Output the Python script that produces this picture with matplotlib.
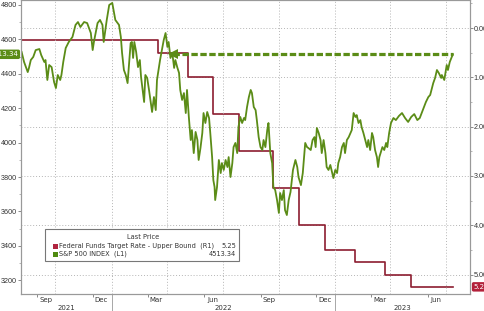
import pandas as pd
import matplotlib
matplotlib.use("Agg")
import matplotlib.pyplot as plt
import matplotlib.dates as mdates
import matplotlib.transforms as mtransforms
from matplotlib.ticker import MultipleLocator, FormatStrFormatter
from matplotlib.patches import Rectangle

plt.rcParams['font.family'] = ['DejaVu Sans']

# S&P 500 index (L1)
sp_dates = [
    "2021-08-07", "2021-08-11", "2021-08-14", "2021-08-17", "2021-08-19", "2021-08-22", "2021-08-26", "2021-08-30",
    "2021-09-05", "2021-09-08", "2021-09-13", "2021-09-15", "2021-09-18", "2021-09-21", "2021-09-25", "2021-09-29",
    "2021-10-02", "2021-10-05", "2021-10-09", "2021-10-11", "2021-10-14", "2021-10-18", "2021-10-23", "2021-10-29",
    "2021-11-03", "2021-11-07", "2021-11-11", "2021-11-17", "2021-11-22", "2021-11-28", "2021-12-01", "2021-12-03",
    "2021-12-09", "2021-12-13", "2021-12-17", "2021-12-19", "2021-12-24", "2021-12-28", "2022-01-02", "2022-01-07",
    "2022-01-13", "2022-01-16", "2022-01-18", "2022-01-21", "2022-01-24", "2022-01-27", "2022-01-29", "2022-02-01",
    "2022-02-03", "2022-02-05", "2022-02-07", "2022-02-10", "2022-02-13", "2022-02-16", "2022-02-18", "2022-02-23",
    "2022-02-25", "2022-02-28", "2022-03-03", "2022-03-06", "2022-03-08", "2022-03-11", "2022-03-14", "2022-03-16",
    "2022-03-21", "2022-03-25", "2022-03-27", "2022-03-30", "2022-04-02", "2022-04-04", "2022-04-07", "2022-04-10",
    "2022-04-13", "2022-04-15", "2022-04-18", "2022-04-21", "2022-04-23", "2022-04-26", "2022-04-29", "2022-05-02",
    "2022-05-04", "2022-05-07", "2022-05-10", "2022-05-12", "2022-05-15", "2022-05-18", "2022-05-21", "2022-05-23",
    "2022-05-26", "2022-05-29", "2022-05-31", "2022-06-03", "2022-06-06", "2022-06-09", "2022-06-11", "2022-06-14",
    "2022-06-16", "2022-06-18", "2022-06-19", "2022-06-22", "2022-06-25", "2022-06-28", "2022-06-30", "2022-07-03",
    "2022-07-06", "2022-07-09", "2022-07-11", "2022-07-14", "2022-07-17", "2022-07-19", "2022-07-22", "2022-07-25",
    "2022-07-27", "2022-07-30", "2022-08-02", "2022-08-05", "2022-08-07", "2022-08-10", "2022-08-13", "2022-08-16",
    "2022-08-18", "2022-08-21", "2022-08-24", "2022-08-26", "2022-08-29", "2022-09-01", "2022-09-04", "2022-09-06",
    "2022-09-09", "2022-09-12", "2022-09-14", "2022-09-17", "2022-09-20", "2022-09-22", "2022-09-25", "2022-09-28",
    "2022-10-01", "2022-10-03", "2022-10-06", "2022-10-09", "2022-10-11", "2022-10-14", "2022-10-17", "2022-10-20",
    "2022-10-24", "2022-10-28", "2022-10-31", "2022-11-02", "2022-11-06", "2022-11-09", "2022-11-13", "2022-11-16",
    "2022-11-18", "2022-11-22", "2022-11-25", "2022-11-28", "2022-11-30", "2022-12-02", "2022-12-05", "2022-12-08",
    "2022-12-10", "2022-12-13", "2022-12-16", "2022-12-18", "2022-12-21", "2022-12-24", "2022-12-27", "2022-12-29",
    "2023-01-01", "2023-01-04", "2023-01-06", "2023-01-09", "2023-01-12", "2023-01-15", "2023-01-17", "2023-01-20",
    "2023-01-23", "2023-01-26", "2023-01-28", "2023-01-31", "2023-02-03", "2023-02-05", "2023-02-08", "2023-02-11",
    "2023-02-13", "2023-02-16", "2023-02-19", "2023-02-22", "2023-02-24", "2023-02-27", "2023-03-02", "2023-03-04",
    "2023-03-07", "2023-03-10", "2023-03-12", "2023-03-14", "2023-03-16", "2023-03-19", "2023-03-22", "2023-03-25",
    "2023-03-27", "2023-03-30", "2023-04-02", "2023-04-06", "2023-04-10", "2023-04-15", "2023-04-20", "2023-04-25",
    "2023-04-30", "2023-05-05", "2023-05-10", "2023-05-15", "2023-05-19", "2023-05-24", "2023-05-29", "2023-06-02",
    "2023-06-05", "2023-06-10", "2023-06-13", "2023-06-16", "2023-06-19", "2023-06-23", "2023-06-24", "2023-06-28",
    "2023-07-02", "2023-07-04", "2023-07-07", "2023-07-12",
]
sp_values = [
    4527, 4469, 4439, 4410, 4434, 4480, 4498, 4538,
    4544, 4509, 4469, 4480, 4364, 4451, 4439, 4352,
    4317, 4393, 4364, 4393, 4469, 4550, 4585, 4614,
    4684, 4701, 4672, 4701, 4695, 4637, 4538, 4585,
    4695, 4713, 4684, 4585, 4713, 4800, 4812, 4713,
    4684, 4614, 4521, 4422, 4393, 4346, 4439, 4579,
    4585, 4492, 4585, 4527, 4439, 4480, 4381, 4236,
    4393, 4376, 4306, 4230, 4178, 4265, 4189, 4364,
    4480, 4556, 4596, 4637, 4556, 4585, 4492, 4521,
    4434, 4480, 4439, 4405, 4306, 4248, 4288, 4172,
    4306, 4149, 4015, 4073, 3939, 4062, 4015, 3899,
    3969, 4056, 4172, 4114, 4178, 4143, 4056, 3916,
    3782, 3742, 3666, 3742, 3899, 3823, 3881, 3841,
    3899, 3858, 3916, 3800, 3881, 3974, 3998, 3939,
    4091, 4149, 4114, 4143, 4131, 4207, 4265, 4306,
    4288, 4207, 4189, 4131, 4032, 3974, 3957, 4015,
    3974, 4073, 4114, 3939, 3881, 3742, 3724, 3666,
    3591, 3707, 3666, 3724, 3608, 3579, 3666, 3713,
    3841, 3899, 3858, 3800, 3753, 3823, 3998, 3974,
    3969, 3957, 4015, 4032, 3974, 4085, 4056, 4015,
    3939, 4015, 3939, 3858, 3841, 3870, 3823, 3794,
    3841, 3823, 3881, 3916, 3974, 3998, 3939, 4015,
    4032, 4056, 4073, 4172, 4149, 4160, 4114, 4131,
    4091, 4056, 4015, 3974, 4015, 3957, 4056, 4032,
    3957, 3916, 3858, 3916, 3939, 3974, 3957, 3998,
    3974, 4056, 4114, 4143, 4131, 4155, 4172, 4143,
    4120, 4149, 4166, 4131, 4143, 4189, 4236, 4265,
    4277, 4346, 4376, 4422, 4405, 4376, 4393, 4364,
    4451, 4422, 4469, 4513.34,
]
sp_last = 4513.34
level_since = "2022-04-11"   # where the dashed "same level" line points back to

# Federal Funds Target Rate - Upper Bound (R1)
rate_dates = ["2021-08-06", "2022-03-17", "2022-05-05", "2022-06-16", "2022-07-28", "2022-09-22",
              "2022-11-03", "2022-12-15", "2023-02-02", "2023-03-23", "2023-05-04", "2023-07-12"]
rate_values = [0.25, 0.50, 1.00, 1.75, 2.50, 3.25, 4.00, 4.50, 4.75, 5.00, 5.25, 5.25]
rate_last = 5.25

x_start, x_end = "2021-08-06", "2023-08-09"
years = [2021, 2022, 2023]

green = '#5b8c17'
red = '#8c1d30'
grid_c = '#b5b5b5'
txt_c = '#333333'

sp_x = pd.to_datetime(sp_dates)
rate_x = pd.to_datetime(rate_dates)

fig = plt.figure(figsize=(4.85, 3.11), dpi=100)
ax = fig.add_axes([21 / 485, 17 / 311, 449 / 485, 294 / 311])
ax2 = ax.twinx()
ax.set_zorder(ax2.get_zorder() + 1)
ax.patch.set_visible(False)

# rate line (right axis)
ax2.plot(rate_x, rate_values, drawstyle='steps-post', color=red, lw=1.2)

# S&P line (left axis)
ax.plot(sp_x, sp_values, color=green, lw=1.3)
ax.plot([pd.Timestamp(level_since), sp_x[-1]], [sp_last, sp_last], color=green, lw=2.3, dashes=(2.0, 0.8))
ax.plot([pd.Timestamp(level_since)], [sp_last], marker='<', color=green, ms=6.5, mew=0)

ax.set_xlim(pd.Timestamp(x_start), pd.Timestamp(x_end))
ax.set_ylim(3120, 4829)
ax2.set_ylim(5.395, -0.568)

# y axes
ax.yaxis.set_major_locator(MultipleLocator(200))
ax.yaxis.set_minor_locator(MultipleLocator(100))
ax2.yaxis.set_major_locator(MultipleLocator(1))
ax2.yaxis.set_minor_locator(MultipleLocator(0.5))
ax2.yaxis.set_major_formatter(FormatStrFormatter('%.2f'))
for a in (ax, ax2):
    a.tick_params(axis='y', which='major', length=2, width=0.6, color='#777',
                  labelsize=5.2, labelcolor=txt_c, pad=0.8)
    a.tick_params(axis='y', which='minor', length=1.3, width=0.5, color='#999')
    for s in a.spines.values():
        s.set_color('#999999')
        s.set_linewidth(0.8)
    for lbl in a.get_yticklabels():
        lbl.set_fontfamily('Liberation Sans')

# x axis: ticks at month starts, labels mid-month
ax.xaxis.set_major_locator(mdates.MonthLocator(bymonth=[3, 6, 9, 12]))
ax.xaxis.set_minor_locator(mdates.MonthLocator(bymonth=[3, 6, 9, 12], bymonthday=15))
ax.xaxis.set_minor_formatter(mdates.DateFormatter('%b'))
ax.xaxis.set_major_formatter(plt.NullFormatter())
ax.tick_params(axis='x', which='major', length=2.5, width=0.6, color='#777')
ax.tick_params(axis='x', which='minor', length=0, labelsize=5, labelcolor=txt_c, pad=2)

# grid
ax2.grid(axis='y', which='major', color=grid_c, ls=(0, (1, 2)), lw=0.7)
for d in pd.date_range("2021-10-01", "2023-07-01", freq='QS'):
    ax2.axvline(d, color=grid_c, ls=(0, (1, 2)), lw=0.7)

# year labels and separators
bt = mtransforms.blended_transform_factory(ax.transData, ax.transAxes)
x0, x1 = pd.Timestamp(x_start), pd.Timestamp(x_end)
for yr in years:
    a = max(pd.Timestamp(f"{yr}-01-01"), x0)
    b = min(pd.Timestamp(f"{yr + 1}-01-01"), x1)
    ax.text(a + (b - a) / 2, -0.048, str(yr), transform=bt, ha='center', va='center',
            fontsize=5, color=txt_c)
    if pd.Timestamp(f"{yr}-01-01") > x0:
        ax.plot([a, a], [0, -0.07], transform=bt, clip_on=False, color='#999999', lw=0.6)

# last-value tags
lt = mtransforms.blended_transform_factory(ax.transAxes, ax.transData)
ax.text(-0.006, sp_last, f"{sp_last:.2f}", transform=lt, ha='right', va='center', fontsize=5,
        color='white', bbox=dict(boxstyle='round,pad=0.25', fc=green, ec='none'))
rt = mtransforms.blended_transform_factory(ax2.transAxes, ax2.transData)
ax2.text(1.008, rate_last, f"{rate_last:.2f}", transform=rt, ha='left', va='center', fontsize=5,
         color='white', bbox=dict(boxstyle='round,pad=0.25', fc='#b3213a', ec='none'))

# legend box
ax.add_patch(Rectangle((0.0535, 0.112), 0.432, 0.109, transform=ax.transAxes,
                       fc='white', ec='#777777', lw=0.8, zorder=10))
ax.text(0.2717, 0.194, "Last Price", transform=ax.transAxes, ha='center', va='center',
        fontsize=4.8, color=txt_c, zorder=11)
rows = [("Federal Funds Target Rate - Upper Bound  (R1)", f"{rate_last:.2f}", '#b0243f', 0.163),
        ("S&P 500 INDEX  (L1)", f"{sp_last:.2f}", '#4f8a10', 0.136)]
for label, val, c, yy in rows:
    ax.add_patch(Rectangle((0.0713, yy - 0.0085), 0.011, 0.017, transform=ax.transAxes,
                           fc=c, ec='none', zorder=11))
    ax.text(0.0846, yy, label, transform=ax.transAxes, ha='left', va='center',
            fontsize=4.8, color=txt_c, zorder=11)
    ax.text(0.479, yy, val, transform=ax.transAxes, ha='right', va='center',
            fontsize=4.8, color=txt_c, zorder=11)

fig.savefig("out.png", dpi=100)
